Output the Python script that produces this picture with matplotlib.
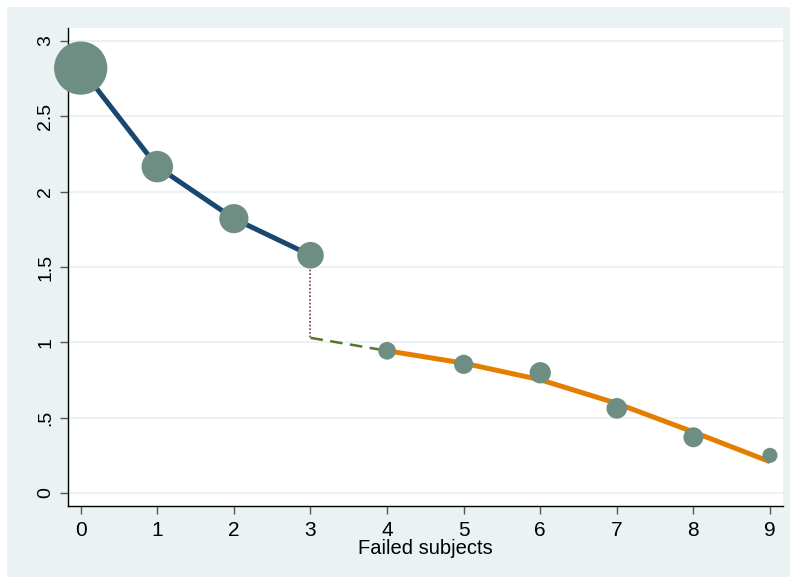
import matplotlib.pyplot as plt
from matplotlib.patches import Rectangle

# Observed means by number of failed subjects (marker area ~ number of subjects)
failed = [0, 1, 2, 3, 4, 5, 6, 7, 8, 9]
observed = [2.82, 2.166, 1.821, 1.578, 0.944, 0.854, 0.798, 0.562, 0.370, 0.250]
n_subjects = [100, 35, 30, 25, 11, 13, 16, 15, 14, 8]

# Fitted line before the break
pre_x = [0, 1, 2, 3]
pre_fit = [2.82, 2.166, 1.821, 1.578]

# Fitted curve after the break
post_x = [4, 5, 6, 7, 8, 9]
post_fit = [0.944, 0.862, 0.752, 0.595, 0.405, 0.208]

# Jump at the break and the projected link to the next point
jump_x = [3, 3]
jump_y = [1.578, 1.03]
link_x = [3, 4]
link_y = [1.03, 0.944]

y_ticks = [0, 0.5, 1, 1.5, 2, 2.5, 3]
y_tick_labels = ["0", ".5", "1", "1.5", "2", "2.5", "3"]

plt.rcParams["font.family"] = ["Liberation Sans", "DejaVu Sans"]

fig = plt.figure(figsize=(7.9, 5.77), dpi=100, facecolor="white")
# Stata-like light bluish graph region, drawn behind the axes
fig.patches.append(Rectangle((7 / 790, 0), 1, 570 / 577, transform=fig.transFigure,
                             facecolor="#EAF2F3", edgecolor="none", zorder=-10))

ax = fig.add_axes([68 / 790, 1 - 506 / 577, 715 / 790, 478 / 577])
ax.set_facecolor("white")

ax.plot(pre_x, pre_fit, color="#1A476F", linewidth=3.6, zorder=2, solid_capstyle="butt")
ax.plot(post_x, post_fit, color="#E37E00", linewidth=3.6, zorder=2, solid_capstyle="butt")
ax.plot(jump_x, jump_y, color="#90353B", linewidth=1.2, linestyle=(0, (1, 1.2)), zorder=2)
ax.plot(link_x, link_y, color="#55752F", linewidth=1.8, linestyle=(0, (5, 3)), zorder=2)

ax.scatter(failed, observed, s=[14.7 * n for n in n_subjects], color="#6E8E84",
           edgecolors="none", zorder=3, clip_on=False)

ax.set_xlim(-0.166, 9.17)
ax.set_ylim(-0.086, 3.086)
ax.set_xticks(failed)
ax.set_xticklabels([str(v) for v in failed], fontsize=15)
ax.set_yticks(y_ticks)
ax.set_yticklabels(y_tick_labels, rotation=90, va="center", fontsize=14)

ax.grid(axis="y", color="#EAF2F3", linewidth=1.5)
ax.set_axisbelow(True)
for side in ["top", "right"]:
    ax.spines[side].set_visible(False)
for side in ["left", "bottom"]:
    ax.spines[side].set_color("black")
    ax.spines[side].set_linewidth(1.0)

ax.tick_params(axis="both", length=6, width=1, color="#555555")
ax.tick_params(axis="x", pad=5)
ax.tick_params(axis="y", pad=4)
ax.set_xlabel("Failed subjects", fontsize=14.5, labelpad=-1)

fig.savefig("out.png", dpi=100, facecolor="white")
